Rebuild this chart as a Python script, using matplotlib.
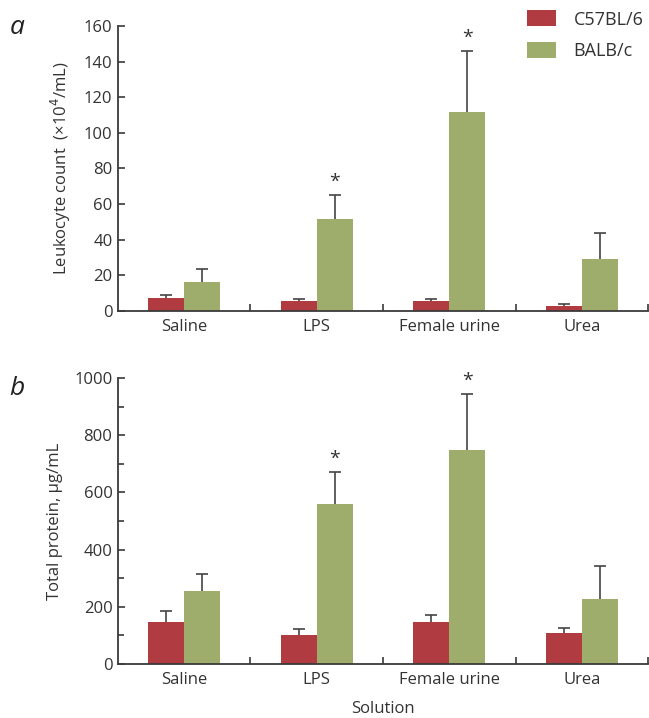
import matplotlib
matplotlib.use("Agg")
import matplotlib.pyplot as plt
import numpy as np
from matplotlib.ticker import MultipleLocator, FixedLocator

plt.rcParams['font.family'] = ['Open Sans', 'DejaVu Sans']

categories = ["Saline", "LPS", "Female urine", "Urea"]
series = ["C57BL/6", "BALB/c"]

leuko_c57 = [7.3, 5.6, 5.6, 2.8]
leuko_c57_err = [1.9, 1.3, 1.3, 0.9]
leuko_balb = [16.3, 51.5, 111.8, 29.2]
leuko_balb_err = [7.5, 13.7, 33.9, 14.4]
leuko_sig = [False, True, True, False]

prot_c57 = [146, 100, 147, 108]
prot_c57_err = [39, 24, 23, 19]
prot_balb = [255, 560, 749, 227]
prot_balb_err = [61, 113, 194, 114]
prot_sig = [False, True, True, False]

red = "#B03C42"
green = "#9FAD6C"
axc = "#3a3a3a"
txtc = "#333333"
FS = 12

fig = plt.figure(figsize=(6.49, 7.18), dpi=100)
ax1 = fig.add_axes([0.1818, 0.5669, 0.8167, 0.3969])
ax2 = fig.add_axes([0.1818, 0.0752, 0.8167, 0.3983])

x = np.arange(len(categories))
w = 0.272

def upper_err(ax, xs, ys, es):
    xs = np.asarray(xs); ys = np.asarray(ys); es = np.asarray(es)
    ax.errorbar(xs, ys, yerr=[np.zeros(len(ys)), es], fmt="none",
                ecolor="#444444", elinewidth=1.2, capsize=0, zorder=1)
    ax.plot(xs, ys + es, linestyle="none", marker="_", markersize=9,
            markeredgewidth=1.2, color="#444444", zorder=1)

def draw(ax, c57, c57e, balb, balbe, sig, ylim, major, minor, ylabel):
    ax.bar(x - w/2, c57, w, color=red, label=series[0], zorder=2)
    ax.bar(x + w/2, balb, w, color=green, label=series[1], zorder=2)
    upper_err(ax, x - w/2, c57, c57e)
    upper_err(ax, x + w/2, balb, balbe)
    for i, s in enumerate(sig):
        if s:
            ax.annotate("*", xy=(x[i] + w/2, balb[i] + balbe[i]), xytext=(0, 3),
                        textcoords="offset points", ha="center", va="bottom",
                        fontsize=14, color=txtc)
    ax.set_xlim(-0.5, len(categories) - 0.5)
    ax.set_ylim(*ylim)
    ax.yaxis.set_major_locator(MultipleLocator(major))
    if minor:
        ax.yaxis.set_minor_locator(MultipleLocator(minor))
    ax.xaxis.set_major_locator(FixedLocator(np.arange(0.5, len(categories), 1.0)))
    ax.xaxis.set_minor_locator(FixedLocator(x))
    ax.set_xticklabels([], minor=False)
    ax.set_xticklabels(categories, minor=True)
    ax.tick_params(axis="x", which="major", direction="in", length=5, width=1.2, color=axc)
    ax.tick_params(axis="x", which="minor", length=0, pad=6, labelsize=FS, labelcolor=txtc)
    ax.tick_params(axis="y", which="both", direction="in", width=1.2, color=axc,
                   labelsize=FS, labelcolor=txtc, pad=4)
    ax.tick_params(axis="y", which="major", length=5)
    ax.tick_params(axis="y", which="minor", length=4)
    for sp in ["top", "right"]:
        ax.spines[sp].set_visible(False)
    for sp in ["left", "bottom"]:
        ax.spines[sp].set_color(axc)
        ax.spines[sp].set_linewidth(1.3)
    ax.set_ylabel(ylabel, fontsize=FS, color=txtc, labelpad=8)

draw(ax1, leuko_c57, leuko_c57_err, leuko_balb, leuko_balb_err, leuko_sig,
     (0, 160), 20, None, "Leukocyte count  (×10$^4$/mL)")
draw(ax2, prot_c57, prot_c57_err, prot_balb, prot_balb_err, prot_sig,
     (0, 1000), 200, 100, "Total protein, μg/mL")

ax2.set_xlabel("Solution", fontsize=FS, color=txtc, labelpad=9)

leg = ax1.legend(loc="upper right", bbox_to_anchor=(1.022, 1.112), frameon=False,
                 fontsize=13, handlelength=1.6, handleheight=1.0,
                 handletextpad=1.0, labelspacing=0.75, labelcolor=txtc)

fig.text(0.015, 0.962, "a", fontsize=19, style="italic", color="#222222", va="center")
fig.text(0.015, 0.459, "b", fontsize=19, style="italic", color="#222222", va="center")

fig.savefig("out.png", dpi=100)
